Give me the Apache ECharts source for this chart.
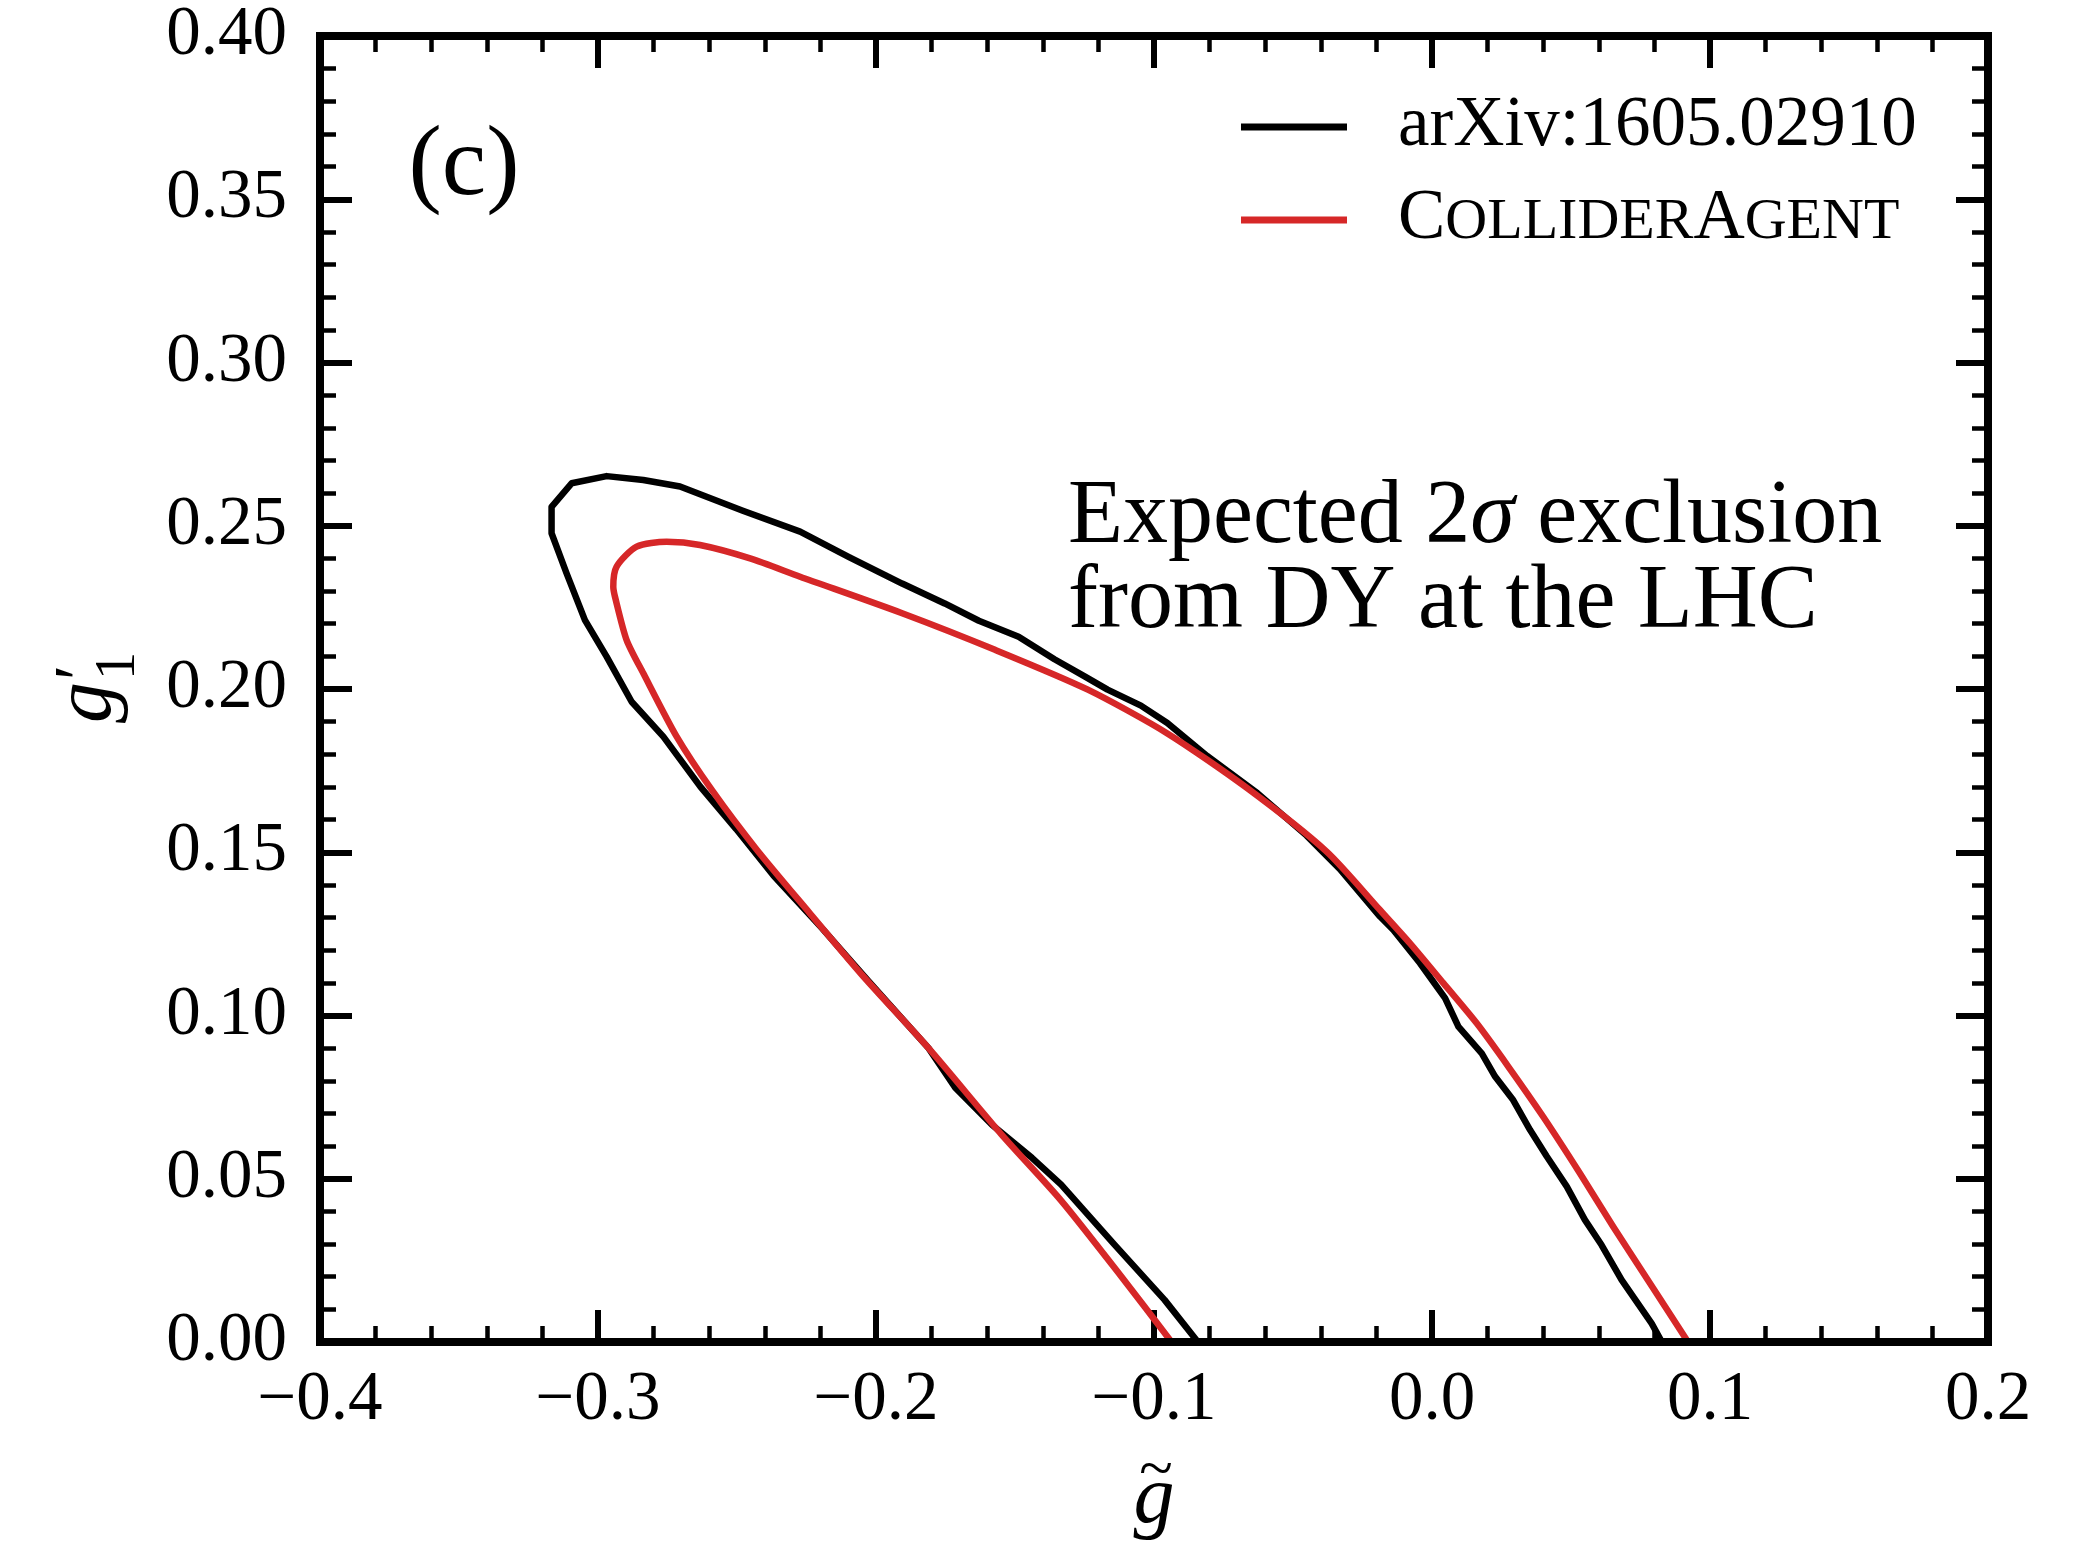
<!DOCTYPE html>
<html><head><meta charset="utf-8">
<script src="https://cdn.jsdelivr.net/npm/echarts/dist/echarts.min.js"></script>
<style>html,body{margin:0;padding:0;background:#fff;}#c{width:2080px;height:1543px;}</style>
</head><body><div id="c"></div>
<script>
// ---- data ----
const xRange = [-0.4, 0.2];
const xStep = 0.1;
const yRange = [0.0, 0.4];
const yStep = 0.05;

const seriesNames = ['arXiv:1605.02910', 'ColliderAgent'];

// black contour (arXiv:1605.02910): [g~, g'_1]
const arxivX = [-0.0842,-0.0962,-0.1143,-0.1334,-0.1439,-0.1582,-0.1715,-0.1811,-0.2026,-0.2193,-0.2369,-0.2503,-0.2632,-0.2765,-0.2879,-0.2969,-0.3047,-0.3113,-0.3167,-0.3167,-0.3095,-0.2969,-0.2837,-0.2705,-0.2479,-0.2273,-0.2097,-0.1906,-0.1753,-0.1630,-0.1487,-0.1358,-0.1248,-0.1167,-0.1047,-0.0952,-0.0809,-0.0628,-0.0451,-0.0332,-0.0187,-0.0139,-0.0043,0.0047,0.0095,0.0179,0.0227,0.0292,0.0353,0.0413,0.0485,0.0550,0.0610,0.0682,0.0790,0.0827];
const arxivY = [0.0,0.0129,0.0299,0.0482,0.0564,0.0665,0.0779,0.0900,0.1104,0.1266,0.1429,0.1571,0.1701,0.1854,0.1961,0.2099,0.2211,0.2354,0.2477,0.2558,0.2630,0.2652,0.2640,0.2620,0.2546,0.2482,0.2404,0.2323,0.2262,0.2209,0.2160,0.2091,0.2038,0.1998,0.1949,0.1896,0.1795,0.1681,0.1551,0.1449,0.1303,0.1262,0.1160,0.1053,0.0966,0.0884,0.0813,0.0741,0.0649,0.0568,0.0476,0.0374,0.0297,0.0190,0.0057,0.0];

// red contour (ColliderAgent)
const agentX = [-0.0937,-0.1119,-0.1334,-0.1549,-0.1811,-0.2050,-0.2240,-0.2431,-0.2590,-0.2717,-0.2837,-0.2897,-0.2939,-0.2945,-0.2933,-0.2861,-0.2753,-0.2633,-0.2453,-0.2273,-0.1906,-0.1572,-0.1238,-0.0952,-0.0666,-0.0379,-0.0187,-0.0079,0.0041,0.0161,0.0275,0.0400,0.0532,0.0652,0.0784,0.0921];
const agentY = [0.0,0.0202,0.0433,0.0636,0.0900,0.1124,0.1315,0.1510,0.1690,0.1854,0.2048,0.2150,0.2283,0.2313,0.2375,0.2436,0.2451,0.2441,0.2400,0.2344,0.2232,0.2120,0.1998,0.1864,0.1697,0.1502,0.1323,0.1221,0.1099,0.0976,0.0843,0.0690,0.0517,0.0353,0.0180,0.0];

const annotationLines = ['Expected 2{i|σ} exclusion', 'from DY at the LHC'];
const panelLabel = '(c)';

// ---- chart ----
const FONT = '"Liberation Serif", "DejaVu Serif", serif';
const zip = (xs, ys) => xs.map((x, i) => [x, ys[i]]);
const fmtX = v => { if (Math.abs(v) < 1e-9) v = 0; const s = Math.abs(v).toFixed(1); return v < 0 ? '\u2212' + s : s; };
const fmtY = v => { if (Math.abs(v) < 1e-9) v = 0; return v.toFixed(2); };

const tickBase = {
  axisLine: { show: false, onZero: false },
  axisTick: { show: true, inside: true, length: 32, lineStyle: { color: '#000', width: 6 } },
  minorTick: { show: true, splitNumber: 5, length: 16, lineStyle: { color: '#000', width: 4.5 } },
  splitLine: { show: false }, minorSplitLine: { show: false }
};

const chart = echarts.init(document.getElementById('c'), null, { renderer: 'canvas' });
chart.setOption({
  backgroundColor: '#fff',
  animation: false,
  grid: { left: 320, top: 36, right: 92, bottom: 201, show: true, borderColor: '#000', borderWidth: 8, backgroundColor: 'transparent', z: 5 },
  xAxis: [
    Object.assign({ type: 'value', min: xRange[0], max: xRange[1], interval: xStep, position: 'bottom',
      axisLabel: { color: '#000', fontFamily: FONT, fontSize: 69, margin: 24, formatter: fmtX } }, tickBase),
    Object.assign({ type: 'value', min: xRange[0], max: xRange[1], interval: xStep, position: 'top',
      axisLabel: { show: false } }, tickBase)
  ],
  yAxis: [
    Object.assign({ type: 'value', min: yRange[0], max: yRange[1], interval: yStep, position: 'left',
      axisLabel: { color: '#000', fontFamily: FONT, fontSize: 69, margin: 33, formatter: fmtY } }, tickBase),
    Object.assign({ type: 'value', min: yRange[0], max: yRange[1], interval: yStep, position: 'right',
      axisLabel: { show: false } }, tickBase)
  ],
  legend: {
    orient: 'vertical', left: 1236, top: 86, itemWidth: 106, itemHeight: 7, itemGap: 22, icon: 'rect',
    data: seriesNames,
    formatter: n => n === 'ColliderAgent' ? '{b|C}{s|OLLIDER}{b|A}{s|GENT}' : '{b|' + n + '}',
    textStyle: {
      color: '#000', fontFamily: FONT, fontSize: 71, lineHeight: 70, padding: [0, 0, 0, 46],
      rich: {
        b: { fontFamily: FONT, fontSize: 71, color: '#000', verticalAlign: 'bottom', lineHeight: 70 },
        s: { fontFamily: FONT, fontSize: 58, color: '#000', verticalAlign: 'bottom', lineHeight: 70, padding: [0, 0, 3, 0] }
      }
    }
  },
  series: [
    { name: seriesNames[0], type: 'line', data: zip(arxivX, arxivY), symbol: 'none', showSymbol: false,
      lineStyle: { color: '#000', width: 6.5, join: 'round' }, itemStyle: { color: '#000' }, z: 3 },
    { name: seriesNames[1], type: 'line', data: zip(agentX, agentY), symbol: 'none', showSymbol: false, smooth: 0.25,
      lineStyle: { color: '#d62728', width: 6.5, join: 'round' }, itemStyle: { color: '#d62728' }, z: 4 }
  ],
  graphic: [
    { type: 'text', x: 464, y: 168, style: { text: panelLabel, font: '100px ' + FONT, fill: '#000', align: 'center', verticalAlign: 'middle' }, z: 10 },
    { type: 'text', x: 1068, y: 518, style: { text: annotationLines[0], fontFamily: FONT, fontSize: 90, fill: '#000', align: 'left', verticalAlign: 'middle',
        rich: { i: { fontFamily: FONT, fontSize: 90, fontStyle: 'italic' } } }, z: 10 },
    { type: 'text', x: 1068, y: 603, style: { text: annotationLines[1], fontFamily: FONT, fontSize: 90, fill: '#000', align: 'left', verticalAlign: 'middle' }, z: 10 },
    // x-axis name: g with tilde
    { type: 'text', x: 1154, y: 1500, style: { text: 'g', fontFamily: FONT, fontSize: 82, fontStyle: 'italic', fill: '#000', align: 'center', verticalAlign: 'middle' }, z: 10 },
    { type: 'text', x: 1156, y: 1472, style: { text: '~', fontFamily: FONT, fontSize: 62, fill: '#000', align: 'center', verticalAlign: 'middle' }, z: 10 },
    // y-axis name: g'_1 (rotated)
    { type: 'group', x: 98, y: 690, rotation: Math.PI / 2, z: 10, children: [
      { type: 'text', x: -33, y: -10, style: { text: 'g', fontFamily: FONT, fontSize: 82, fontStyle: 'italic', fill: '#000', align: 'left', verticalAlign: 'middle' } },
      { type: 'text', x: 10, y: -14, style: { text: '\u2032', fontFamily: FONT, fontSize: 70, fill: '#000', align: 'left', verticalAlign: 'middle' } },
      { type: 'text', x: 10, y: 21, style: { text: '1', fontFamily: FONT, fontSize: 56, fill: '#000', align: 'left', verticalAlign: 'middle' } }
    ] }
  ]
});
</script>
</body></html>
